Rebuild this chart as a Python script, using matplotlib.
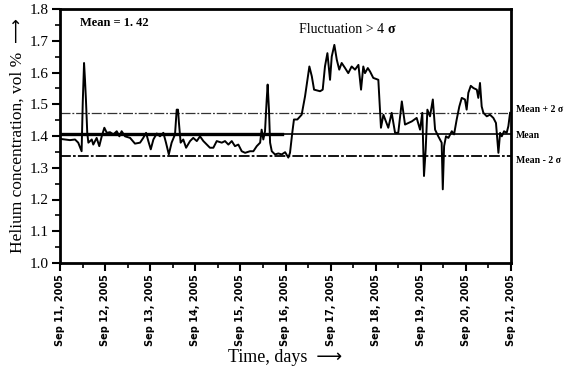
import matplotlib
matplotlib.use("Agg")
import matplotlib.pyplot as plt
from matplotlib.ticker import MultipleLocator
import numpy as np

# hours since Sep 11, 2005 00:00
hours = [0, 5.3, 8.0, 9.7, 11.5, 12.1, 12.8, 13.3, 13.8, 14.5, 15.1, 16.9, 17.7, 19.5, 20.9,
         22.2, 23.6, 24.9, 26.6, 28.4, 30.2, 31.6, 32.8, 34.6, 37.3, 39.9, 42.6, 44.3, 45.8,
         47.0, 48.3, 49.7, 51.5, 53.2, 55.0, 56.4, 57.9, 59.4, 61.2, 62.1, 62.8, 63.3, 64.2,
         65.6, 67.1, 69.2, 70.9, 72.8, 74.5, 76.3, 78.1, 79.8, 81.6, 83.4, 86.1, 87.8, 89.6,
         91.4, 93.1, 94.9, 96.7, 98.5, 101.1, 102.9, 104.7, 106.5, 107.3, 108.2, 109.1, 110.0,
         110.5, 111.2, 111.8, 112.7, 114.4, 116.2, 118.0, 119.8, 121.5, 122.4, 123.6, 124.5,
         126.3, 128.6, 130.4, 132.7, 134.0, 135.2, 138.4, 139.8, 141.0, 142.3, 143.7, 144.6,
         146.0, 147.3, 148.6, 149.9, 151.7, 153.4, 155.2, 157.0, 158.8, 160.2, 161.4, 162.3,
         163.8, 165.0, 166.7, 169.4, 170.3, 170.8, 172.1, 174.7, 176.5, 178.3, 180.0, 181.9,
         183.6, 185.4, 187.2, 189.8, 191.6, 192.8, 193.7, 194.6, 195.5, 196.9, 198.4, 199.6,
         201.3, 203.1, 203.7, 204.4, 205.4, 206.7, 208.5, 209.7, 211.1, 212.5, 213.8, 215.5,
         216.4, 217.3, 218.6, 220.0, 221.8, 222.6, 223.5, 224.4, 225.3, 227.1, 228.8, 230.6,
         232.0, 233.3, 234.2, 235.1, 236.3, 237.7, 238.6, 239.5]
helium = [1.391, 1.387, 1.389, 1.379, 1.352, 1.504, 1.630, 1.577, 1.515, 1.410, 1.379, 1.389,
          1.373, 1.394, 1.368, 1.399, 1.426, 1.410, 1.412, 1.405, 1.415, 1.399, 1.415, 1.399,
          1.394, 1.376, 1.379, 1.394, 1.410, 1.384, 1.358, 1.389, 1.408, 1.399, 1.410, 1.379,
          1.342, 1.379, 1.405, 1.483, 1.483, 1.441, 1.379, 1.389, 1.363, 1.384, 1.394, 1.384,
          1.399, 1.384, 1.373, 1.363, 1.363, 1.384, 1.379, 1.384, 1.373, 1.384, 1.368, 1.373,
          1.352, 1.347, 1.352, 1.352, 1.368, 1.379, 1.420, 1.389, 1.415, 1.515, 1.562, 1.483,
          1.379, 1.352, 1.342, 1.345, 1.342, 1.349, 1.332, 1.347, 1.410, 1.452, 1.452, 1.467,
          1.525, 1.619, 1.588, 1.546, 1.541, 1.546, 1.619, 1.661, 1.577, 1.650, 1.687, 1.640,
          1.609, 1.630, 1.614, 1.598, 1.619, 1.609, 1.624, 1.546, 1.619, 1.598, 1.614, 1.603,
          1.583, 1.577, 1.483, 1.426, 1.467, 1.426, 1.473, 1.410, 1.410, 1.509, 1.436, 1.441,
          1.446, 1.457, 1.420, 1.473, 1.274, 1.358, 1.483, 1.462, 1.515, 1.420, 1.399, 1.379,
          1.232, 1.368, 1.399, 1.394, 1.415, 1.405, 1.452, 1.493, 1.520, 1.515, 1.483, 1.536,
          1.558, 1.551, 1.546, 1.520, 1.567, 1.493, 1.473, 1.462, 1.467, 1.457, 1.441, 1.347,
          1.410, 1.399, 1.415, 1.410, 1.431, 1.473]

mean_level = 1.405
upper_level = 1.473
lower_level = 1.336
day_labels = ["Sep 11, 2005", "Sep 12, 2005", "Sep 13, 2005", "Sep 14, 2005", "Sep 15, 2005",
              "Sep 16, 2005", "Sep 17, 2005", "Sep 18, 2005", "Sep 19, 2005", "Sep 20, 2005",
              "Sep 21, 2005"]

serif = ["Liberation Serif", "DejaVu Serif"]

fig = plt.figure(figsize=(5.66, 3.67), dpi=100)
ax = fig.add_axes([60/566, 1-263/367, 451/566, 254/367])

days = np.array(hours) / 24.0
ax.plot(days, helium, color="black", lw=1.4, zorder=3)

ax.axhline(mean_level, color="black", lw=1.2, zorder=2)
ax.plot([0, 118/24], [mean_level, mean_level], color="black", lw=2.4, zorder=2)
ax.axhline(upper_level, color="#333333", lw=0.9, ls=(0, (8, 1.5, 1.5, 1.5)), zorder=2)
ax.axhline(lower_level, color="black", lw=1.3, ls=(0, (6, 1.2, 1.5, 1.2)), zorder=2)

ax.set_xlim(0, 10)
ax.set_ylim(1.0, 1.8)
ax.xaxis.set_minor_locator(MultipleLocator(0.5))
ax.yaxis.set_minor_locator(MultipleLocator(0.05))
ax.set_xticks(range(11))
ax.set_xticklabels(day_labels, rotation=90, fontsize=7, fontweight="bold",
                   family="DejaVu Sans")
ax.set_yticks(np.round(np.arange(1.0, 1.81, 0.1), 1))
ax.set_yticklabels([f"{v:.1f}" for v in np.arange(1.0, 1.81, 0.1)], family=serif, fontsize=11)
ax.tick_params(axis="both", which="major", direction="out", length=6, width=1.5, color="black")
ax.tick_params(axis="both", which="minor", direction="out", length=3.5, width=1.2)
ax.tick_params(axis="x", pad=2)
ax.tick_params(axis="y", pad=2)
for s in ax.spines.values():
    s.set_linewidth(2)

ax.set_ylabel("Helium concentration, vol %  \u27f6", family=["Liberation Serif", "DejaVu Sans"],
              fontsize=12.5, labelpad=3)
ax.set_xlabel("Time, days  \u27f6", family=["Liberation Serif", "DejaVu Sans"],
              fontsize=13, labelpad=2)

ax.text(0.045, 0.945, "Mean = 1. 42", transform=ax.transAxes, family=serif,
        fontsize=9, fontweight="bold", va="center", ha="left")
ax.text(0.53, 0.92, "Fluctuation > 4", transform=ax.transAxes, family=serif,
        fontsize=10, va="center", ha="left")
ax.text(0.727, 0.92, "\u03c3", transform=ax.transAxes, family=serif,
        fontsize=10, fontweight="bold", va="center", ha="left")

tr = ax.get_yaxis_transform()
ax.text(1.01, upper_level + 0.01, "Mean + 2 \u03c3", transform=tr, family=serif, fontsize=7,
        fontweight="bold", va="center", ha="left")
ax.text(1.01, mean_level - 0.004, "Mean", transform=tr, family=serif, fontsize=7,
        fontweight="bold", va="center", ha="left")
ax.text(1.01, lower_level - 0.012, "Mean - 2 \u03c3", transform=tr, family=serif, fontsize=7,
        fontweight="bold", va="center", ha="left")

fig.savefig("out.png", dpi=100)
